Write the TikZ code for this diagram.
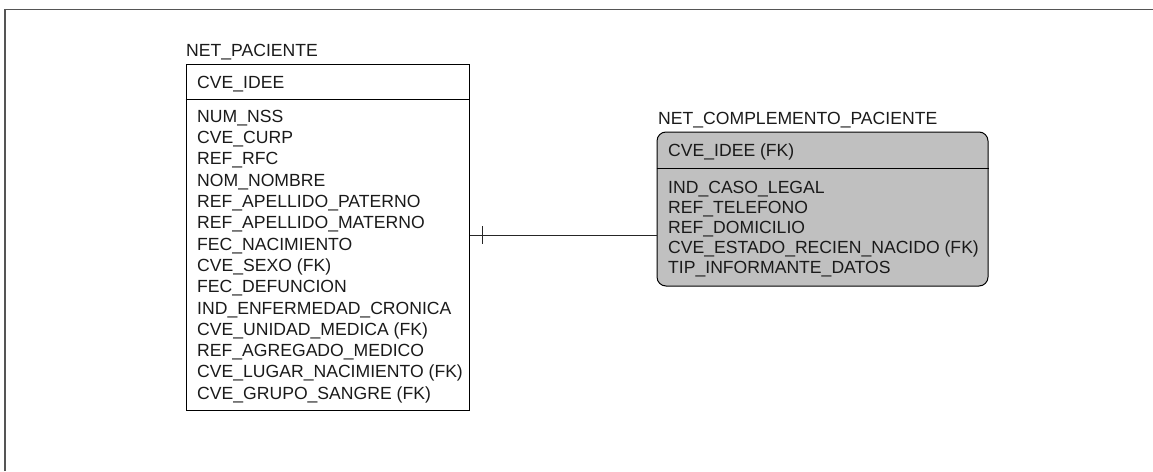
\documentclass[tikz,border=0pt]{standalone}
\usepackage{fontspec}
\setmainfont{Liberation Sans}
\definecolor{framec}{HTML}{555555}
\definecolor{entfill}{HTML}{C0C0C0}
\definecolor{txtc}{HTML}{1A1A1A}
\tikzset{
  lbl/.style={anchor=base west, inner sep=0pt, text=txtc, font=\fontsize{17.6}{20}\selectfont},
  entbox/.style={draw=black, line width=1pt, inner sep=0pt},
  link/.style={draw=black!85, line width=1pt}
}
\begin{document}
\begin{tikzpicture}[x=1pt,y=-1pt]
\useasboundingbox (0,0) rectangle (1153,471);
% frame
\draw[framec, line width=1.6pt] (5,471) -- (5,9.5) -- (1153,9.5);
% NET_PACIENTE
\node[entbox, minimum width=283pt, minimum height=346pt] (pac) at (327.5,237) {};
\draw[line width=1pt] (pac.west |- 0,99) -- (pac.east |- 0,99);
\node[lbl] (pact) at (186,56.3) {NET\_PACIENTE};
\node[lbl] (pk1) at (197,88.3) {CVE\_IDEE};
\foreach \t [count=\i from 0] in {NUM\_NSS,CVE\_CURP,REF\_RFC,NOM\_NOMBRE,REF\_APELLIDO\_PATERNO,REF\_APELLIDO\_MATERNO,FEC\_NACIMIENTO,CVE\_SEXO (FK),FEC\_DEFUNCION,IND\_ENFERMEDAD\_CRONICA,CVE\_UNIDAD\_MEDICA (FK),REF\_AGREGADO\_MEDICO,CVE\_LUGAR\_NACIMIENTO (FK),CVE\_GRUPO\_SANGRE (FK)}
  \node[lbl] (pa\i) at (197,{122.3+21.3*\i}) {\t};
% NET_COMPLEMENTO_PACIENTE
\node[entbox, fill=entfill, rounded corners=9pt, minimum width=331pt, minimum height=154pt] (comp) at (822.5,209) {};
\draw[line width=1pt] (comp.west |- 0,168) -- (comp.east |- 0,168);
\node[lbl] (compt) at (658,124.3) {NET\_COMPLEMENTO\_PACIENTE};
\node[lbl] (ck1) at (668,156.3) {CVE\_IDEE (FK)};
\foreach \t [count=\i from 0] in {IND\_CASO\_LEGAL,REF\_TELEFONO,REF\_DOMICILIO,CVE\_ESTADO\_RECIEN\_NACIDO (FK),TIP\_INFORMANTE\_DATOS}
  \node[lbl] (ca\i) at (668,{193.3+20*\i}) {\t};
% relationship
\coordinate (lnk) at (560,235);
\draw[link] (lnk -| pac.east) -- (lnk -| comp.west);
\draw[link] ([xshift=13pt]lnk -| pac.east) ++(0,-9) -- ++(0,18);
\end{tikzpicture}
\end{document}
